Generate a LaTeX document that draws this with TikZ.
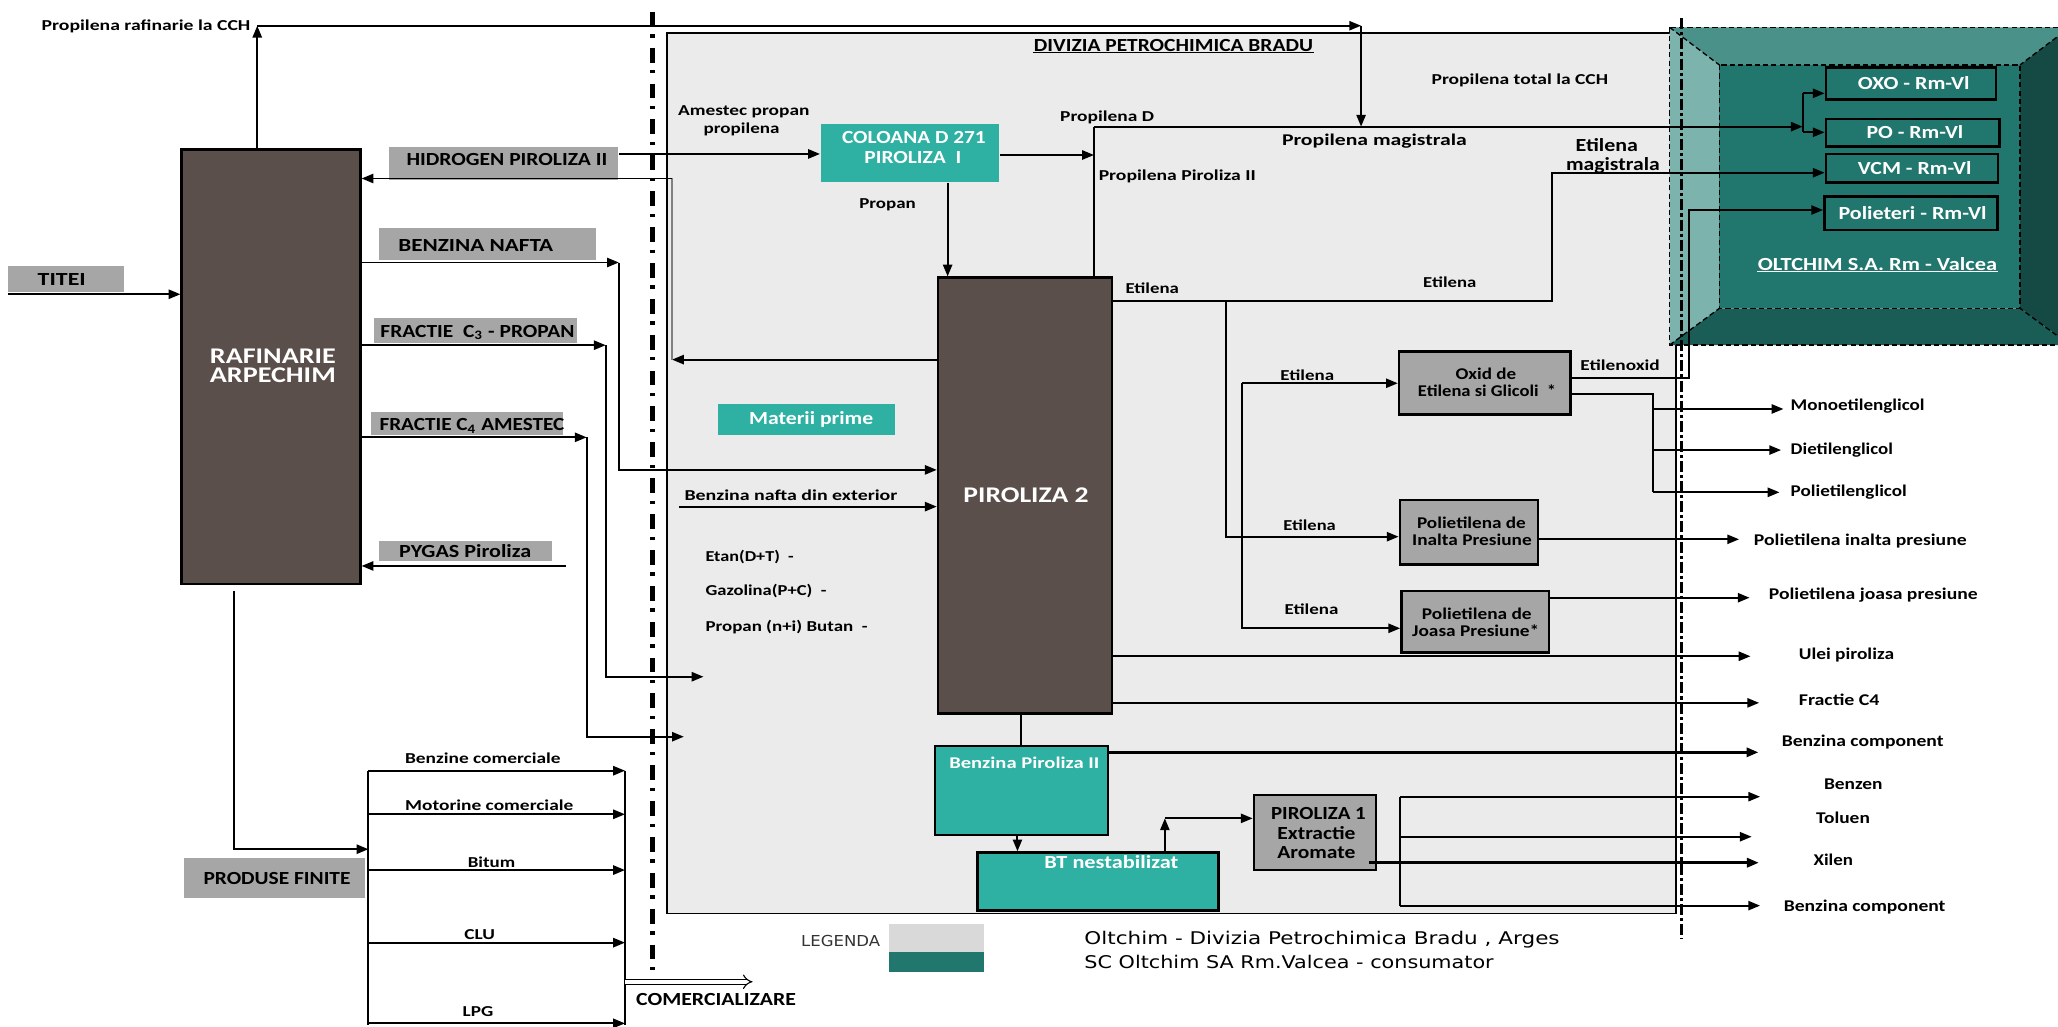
\documentclass[tikz,border=0pt]{standalone}
\usepackage{fontspec}
\setmainfont{Carlito}
\newfontfamily\legfont{DejaVu Sans}
\usepackage{graphicx}
\usetikzlibrary{arrows.meta,fit}
\newdimen\un \un=0.6pt
\newcommand\fw[2]{\resizebox{#1\un}{\height}{#2}}
\definecolor{brownbox}{HTML}{5A4F4B}
\definecolor{tealbox}{HTML}{2EB0A3}
\definecolor{graylab}{HTML}{A6A6A6}
\definecolor{panelgray}{HTML}{EBEBEB}
\definecolor{oltin}{HTML}{21766D}
\definecolor{oltleft}{HTML}{7DB3AD}
\definecolor{olttop}{HTML}{4A918A}
\definecolor{oltbot}{HTML}{1A5D57}
\definecolor{oltright}{HTML}{154A44}
\definecolor{legtop}{HTML}{D9D9D9}
\begin{document}
\begin{tikzpicture}[x=0.6pt,y=-0.6pt,line width=0.9pt,
  >={Triangle[length=5.4pt,width=4.2pt]},
  lt/.style={inner sep=0pt,anchor=west,text depth=0pt},
  ts/.style={lt,text height=4.38pt,font=\fontsize{6.93pt}{8pt}\selectfont\bfseries},
  tsp/.style={lt,text height=4.74pt,font=\fontsize{7.5pt}{9pt}\selectfont\bfseries},
  tm/.style={lt,text height=5.34pt,font=\fontsize{8.45pt}{10pt}\selectfont\bfseries},
  tl/.style={lt,text height=6.5pt,font=\fontsize{10.25pt}{12pt}\selectfont\bfseries},
  wt/.style={text=white},
  boxb/.style={draw=black,line width=1.2pt,fill=brownbox,inner sep=0pt},
  boxt/.style={fill=tealbox,inner sep=0pt},
  boxtd/.style={fill=tealbox,draw=black,line width=1pt,inner sep=0pt},
  boxg/.style={fill=graylab,inner sep=0pt},
  boxgd/.style={fill=graylab,draw=black,line width=1.2pt,inner sep=0pt},
  oltbox/.style={fill=oltin,draw=black,line width=1.2pt,inner sep=0pt},
  dashdot/.style={line width=2.4pt,dash pattern=on 6.8pt off 3.5pt on 1.5pt off 4.6pt},
  dashdotb/.style={line width=1.7pt,dash pattern=on 5pt off 1.4pt on 1.4pt off 1.4pt},
  bevel/.style={dashed,line width=0.6pt,dash pattern=on 2.4pt off 1.4pt}
]
\useasboundingbox (0,0) rectangle (1568,782);
\fill[white] (0,0) rectangle (1568,782);

% panel
\node[draw=black,fill=panelgray,line width=0.8pt,inner sep=0pt,fit={(508,24.9)(1277,696)}] (panel) {};

% OLTCHIM bevel block
\fill[oltleft] (1272,20.8) -- (1310,49.5) -- (1310,234.9) -- (1272,262.9) -- cycle;
\fill[olttop] (1272,20.8) -- (1577,20.8) -- (1539,49.5) -- (1310,49.5) -- cycle;
\fill[oltright] (1577,20.8) -- (1577,262.9) -- (1539,234.9) -- (1539,49.5) -- cycle;
\fill[oltbot] (1272,262.9) -- (1310,234.9) -- (1539,234.9) -- (1577,262.9) -- cycle;
\fill[oltin] (1310,49.5) rectangle (1539,234.9);
\draw[bevel] (1272,20.8) rectangle (1577,262.9);
\draw[bevel] (1310,49.5) rectangle (1539,234.9);
\draw[bevel] (1272,20.8) -- (1310,49.5) (1577,20.8) -- (1539,49.5)
  (1272,262.9) -- (1310,234.9) (1577,262.9) -- (1539,234.9);

% boxes
\node[boxb,fit={(138.5,114)(274.5,445)}] (raf) {};
\node[boxb,fit={(714.7,211.6)(847.2,543.5)}] (pir2) {};
\node[boxg,fit={(6.1,202.4)(94.2,222.7)}] (titeibox) {};
\node[boxg,fit={(296,111.7)(471,137)}] (hidbox) {};
\node[boxg,fit={(289,174)(454,198)}] (bnbox) {};
\node[boxg,fit={(285,242.5)(439.5,261)}] (c3box) {};
\node[boxg,fit={(282.3,313.7)(429.3,331.7)}] (c4box) {};
\node[boxg,fit={(288.4,412)(420.7,427.4)}] (pygbox) {};
\node[boxg,fit={(140,653.5)(278,684)}] (pfbox) {};
\node[boxt,fit={(625.5,94.7)(761.5,138.4)}] (col) {};
\node[boxt,fit={(547,307.8)(682,331.7)}] (mat) {};
\node[boxtd,fit={(712.3,568.1)(844.2,636.2)}] (bp2) {};
\node[boxtd,line width=1.3pt,fit={(744.6,649.7)(928.3,693.8)}] (bt) {};
\node[boxgd,fit={(1066,268)(1196.7,315.7)}] (oxid) {};
\node[boxgd,fit={(1066.6,381)(1171.7,430)}] (peip) {};
\node[boxgd,fit={(1067.8,450.3)(1180.2,497.3)}] (pejp) {};
\node[boxgd,fit={(955.4,605.7)(1048.4,662.9)}] (pir1) {};
\node[oltbox,fit={(1391.2,51.6)(1520.8,75.7)}] (oxo) {};
\node[oltbox,fit={(1391.2,90.7)(1523.4,111.7)}] (po) {};
\node[oltbox,fit={(1391.2,117.3)(1522.4,139.2)}] (vcm) {};
\node[oltbox,fit={(1390,149.8)(1522,175.2)}] (polie) {};

% coordinates
\coordinate (cchA) at (196,19.6);
\coordinate (cchB) at (1037,19.6);
\coordinate (magJ) at (1037,96.5);
\coordinate (titeiS) at (6.1,224.2);
\coordinate (hyJ) at (512,274);
\coordinate (hyT) at (512,136);
\coordinate (bnJ) at (471.5,200);
\coordinate (c3J) at (461.5,263);
\coordinate (c3E) at (536,515.6);
\coordinate (c4J) at (447,333.2);
\coordinate (c4E) at (521,561.3);
\coordinate (pygS) at (431.3,431.2);
\coordinate (exS) at (517.3,386);
\coordinate (rafD) at (178,450);
\coordinate (pfL) at (280.7,587.2);
\coordinate (pfLB) at (280.7,781);
\coordinate (pfR) at (476.2,587.2);
\coordinate (pfRB) at (476.2,781);
\coordinate (comE) at (573.4,748);
\coordinate (prJ) at (833.5,96.5);
\coordinate (magE) at (1373.5,96.5);
\coordinate (etJ) at (1182.7,229.3);
\coordinate (eb1) at (934,229.3);
\coordinate (eb2) at (946.6,292);
\coordinate (eoJ) at (1287,288.2);
\coordinate (gJ) at (1259.3,300.4);
\coordinate (gB) at (1259.3,375.1);
\coordinate (megE) at (1358.8,311.6);
\coordinate (degE) at (1357,342.9);
\coordinate (pegE) at (1355.8,375.1);
\coordinate (peipE) at (1325,410.9);
\coordinate (pejpE) at (1333,455.4);
\coordinate (uleiE) at (1333.7,500);
\coordinate (fc4E) at (1340.3,535.5);
\coordinate (bc1E) at (1339.7,573.2);
\coordinate (btJ) at (887.5,623.5);
\coordinate (arT) at (1067,607);
\coordinate (arB) at (1067,690);
\coordinate (benzE) at (1341,607);
\coordinate (tolE) at (1334.6,637.5);
\coordinate (xilE) at (1340,657.3);
\coordinate (bc2E) at (1341,690);
\coordinate (dd1t) at (497,9);
\coordinate (dd1b) at (497,745);
\coordinate (dd2t) at (1281.2,14);
\coordinate (dd2b) at (1281.2,715);

% connectors
\draw[->] (raf.north -| cchA) -- (cchA);
\draw[->] (cchA) -- (cchB);
\draw[->] (cchB) -- (magJ);
\draw[->] (titeiS) -- (raf.west |- titeiS);
\draw[->] (hidbox.east |- 0,117.3) -- (col.west |- 0,117.3);
\draw[->] (pir2.west |- hyJ) -- (hyJ);
\draw[gray,line width=0.8pt] (hyJ) -- (hyT);
\draw[->] (hyT) -- (raf.east |- hyT);
\draw[->] (raf.east |- bnJ) -- (bnJ);
\draw[->] (bnJ) |- (pir2.west |- 0,358);
\draw[->] (raf.east |- c3J) -- (c3J);
\draw[->] (c3J) |- (c3E);
\draw[->] (raf.east |- c4J) -- (c4J);
\draw[->] (c4J) |- (c4E);
\draw[->] (pygS) -- (raf.east |- pygS);
\draw[->] (exS) -- (pir2.west |- exS);
\draw[->] (rafD) |- (pfL |- 0,647);
\draw (pfL) -- (pfLB);
\draw (pfR) -- (pfRB);
\foreach \yy in {587.2,620.4,662.9,718.2,779.7}
  \draw[->] (pfL |- 0,\yy) -- (pfR |- 0,\yy);
\draw[double,double distance=1.8pt,line width=0.5pt,-{Implies}] (pfR |- comE) -- (comE);
\draw[->] (col.east |- 0,118.1) -- (prJ |- 0,118.1);
\draw (pir2.north -| prJ) -- (prJ);
\draw[->] (prJ) -- (magE);
\draw (magE |- 0,71.1) -- (magE |- 0,100.8);
\draw[->] (magE |- 0,71.1) -- (oxo.west |- 0,71.1);
\draw[->] (magE |- 0,100.8) -- (po.west |- 0,100.8);
\draw[->] (col.south -| 722,0) -- (pir2.north -| 722,0);
\draw[->] (pir2.east |- etJ) -- (etJ) |- (vcm.west |- 0,131.6);
\draw[->] (eb1) |- (peip.west |- 0,408.9);
\draw[->] (eb2) -- (oxid.west |- eb2);
\draw[->] (eb2) |- (pejp.west |- 0,478.7);
\draw[->] (oxid.east |- eoJ) -- (eoJ) |- (polie.west |- 0,160);
\draw (oxid.east |- gJ) -- (gJ) -- (gB);
\draw[->] (gJ |- megE) -- (megE);
\draw[->] (gJ |- degE) -- (degE);
\draw[->] (gB) -- (pegE);
\draw[->] (peip.east |- peipE) -- (peipE);
\draw[->] (pejp.east |- pejpE) -- (pejpE);
\draw[->] (pir2.east |- uleiE) -- (uleiE);
\draw[->] (pir2.east |- fc4E) -- (fc4E);
\draw (pir2.south -| 777.9,0) -- (bp2.north -| 777.9,0);
\draw[->,line width=1.2pt] (bp2.east |- bc1E) -- (bc1E);
\draw[->] (bp2.south -| 775.2,0) -- (bt.north -| 775.2,0);
\draw[->] (bt.north -| btJ) -- (btJ);
\draw[->] (btJ) -- (pir1.west |- btJ);
\draw (arT) -- (arB);
\draw[->] (arT) -- (benzE);
\draw[->] (arT |- tolE) -- (tolE);
\draw[->,line width=1.2pt] ([xshift=-4pt]pir1.east |- xilE) -- (xilE);
\draw[->] (arB) -- (bc2E);

% dash-dot boundaries
\draw[dashdot] (dd1t) -- (dd1b);
\draw[dashdotb] (dd2t) -- (dd2b);

% small labels
\node[ts] (l1) at (31,19.6) {\fw{159}{Propilena rafinarie la CCH}};
\node[ts] (l2) at (516,84.6) {\fw{100}{Amestec propan}};
\node[ts] (l3) at (535.4,97.8) {\fw{57.7}{propilena}};
\node[ts] (l4) at (654,155.2) {\fw{43}{Propan}};
\node[ts] (l5) at (807,88.9) {\fw{71.5}{Propilena D}};
\node[ts] (l6) at (836.4,133.8) {\fw{119.6}{Propilena Piroliza II}};
\node[ts] (l7) at (1090,60.4) {\fw{134.4}{Propilena total la CCH}};
\node[ts] (l8) at (856.8,219.7) {\fw{40.7}{Etilena}};
\node[ts] (l9) at (1083.6,215.1) {\fw{40.4}{Etilena}};
\node[ts] (l10) at (974.8,286.2) {\fw{40.9}{Etilena}};
\node[ts] (l11) at (977,400.5) {\fw{40}{Etilena}};
\node[ts] (l12) at (978,464.3) {\fw{41}{Etilena}};
\node[ts] (l13) at (520.8,377.7) {\fw{162.2}{Benzina nafta din exterior}};
\node[ts] (l14) at (536.8,424.1) {\fw{67.2}{Etan(D+T)\ \ -}};
\node[ts] (l15) at (536.8,450) {\fw{92.1}{Gazolina(P+C)\ \ -}};
\node[ts] (l16) at (536.8,477.4) {\fw{123.4}{Propan (n+i) Butan\ \ -}};
\node[ts] (l17) at (1203.4,278.6) {\fw{60.4}{Etilenoxid}};
\node[ts] (pc1) at (307.9,577.8) {\fw{118.5}{Benzine comerciale}};
\node[ts] (pc2) at (307.9,614) {\fw{128.2}{Motorine comerciale}};
\node[ts] (pc3) at (355.7,657.3) {\fw{36.1}{Bitum}};
\node[ts] (pc4) at (353,711.9) {\fw{23.3}{CLU}};
\node[ts] (pc5) at (351.8,770.8) {\fw{23.3}{LPG}};

% output labels
\node[tsp] (o1) at (1363.6,309) {\fw{102}{Monoetilenglicol}};
\node[tsp] (o2) at (1363.6,342.3) {\fw{77.9}{Dietilenglicol}};
\node[tsp] (o3) at (1363.6,374.1) {\fw{88.4}{Polietilenglicol}};
\node[tsp] (o4) at (1335.6,411.4) {\fw{162}{Polietilena inalta presiune}};
\node[tsp] (o5) at (1347,452.8) {\fw{159}{Polietilena joasa presiune}};
\node[tsp] (o6) at (1369.8,498.3) {\fw{72.5}{Ulei piroliza}};
\node[tsp] (o7) at (1369.8,533.3) {\fw{61.5}{Fractie C4}};
\node[tsp] (o8) at (1356.8,565) {\fw{123.2}{Benzina component}};
\node[tsp] (o9) at (1389,597.3) {\fw{44.6}{Benzen}};
\node[tsp] (o10) at (1383,623.5) {\fw{40.9}{Toluen}};
\node[tsp] (o11) at (1381,655.7) {\fw{30}{Xilen}};
\node[tsp] (o12) at (1358.3,690.8) {\fw{123.2}{Benzina component}};
\node[tsp] (t18) at (976,106.7) {\fw{140.8}{Propilena magistrala}};

% box texts
\node[tsp] (ox1) at (1108.3,285.2) {\fw{46.1}{Oxid de}};
\node[tsp] (ox2) at (1079.6,298.4) {\fw{105.3}{Etilena si Glicoli\ \ *}};
\node[tsp] (pi1) at (1078.9,398.7) {\fw{82.9}{Polietilena de}};
\node[tsp] (pi2) at (1075.2,411.9) {\fw{91}{Inalta Presiune}};
\node[tsp] (pj1) at (1082.6,467.8) {\fw{83.6}{Polietilena de}};
\node[tsp] (pj2) at (1075.2,480.8) {\fw{96.8}{Joasa Presiune*}};
\node[tm] (p11) at (967.7,619.7) {\fw{72.1}{PIROLIZA 1}};
\node[tm] (p12) at (972.5,634.9) {\fw{59.5}{Extractie}};
\node[tm] (p13) at (972.5,649.7) {\fw{59.5}{Aromate}};
\node[tsp,wt] (t20) at (722.5,581.6) {\fw{114.3}{Benzina Piroliza II}};
\node[tm,wt] (t21) at (795,657) {\fw{102}{BT nestabilizat}};

% medium labels
\node[tm] (t1) at (28,212.8) {\fw{36.6}{TITEI}};
\node[tm] (t2) at (309,122) {\fw{153}{HIDROGEN PIROLIZA II}};
\node[tm] (t3) at (302.7,187.2) {\fw{118}{BENZINA NAFTA}};
\node[tm] (t4) at (289.1,252.7) {\fw{147.9}{FRACTIE\ \ C\textsubscript{3} - PROPAN}};
\node[tm] (t5) at (288.4,323.8) {\fw{140.9}{FRACTIE C\textsubscript{4} AMESTEC}};
\node[tm] (t6) at (303.4,420.3) {\fw{100.6}{PYGAS Piroliza}};
\node[tm] (t7) at (154.3,669.2) {\fw{112}{PRODUSE FINITE}};
\node[tm] (t8) at (787,34.8) {\fw{212.6}{DIVIZIA PETROCHIMICA BRADU}};
\draw[line width=0.6pt] (t8.west |- 0,39.9) -- (t8.east |- 0,39.9);
\node[tm,wt] (t9) at (640.8,104.6) {\fw{109.5}{COLOANA D 271}};
\node[tm,wt] (t10) at (657.8,120.1) {\fw{73.8}{PIROLIZA\ \ I}};
\node[tm,wt] (t11) at (570,318.7) {\fw{94.6}{Materii prime}};
\node[tm] (t12) at (484,762) {\fw{121.7}{COMERCIALIZARE}};
\node[tm,wt] (t13) at (1414.8,63.5) {\fw{85.1}{OXO - Rm-Vl}};
\node[tm,wt] (t14) at (1421.4,100.8) {\fw{73.7}{PO - Rm-Vl}};
\node[tm,wt] (t15) at (1414.8,128.3) {\fw{86.5}{VCM - Rm-Vl}};
\node[tm,wt] (t16) at (1400,162.5) {\fw{112.8}{Polieteri - Rm-Vl}};
\node[tm,wt] (t17) at (1338.5,201.9) {\fw{182.3}{OLTCHIM S.A. Rm - Valcea}};
\draw[white,line width=0.6pt] (t17.west |- 0,207) -- (t17.east |- 0,207);
\node[tm] (t19) at (1199.7,111.2) {\fw{47.5}{Etilena}};
\node[tm] (t19b) at (1192.4,125.7) {\fw{71.4}{magistrala}};

% large labels
\node[tl,wt] (r1) at (159.2,271.7) {\fw{95.9}{RAFINARIE}};
\node[tl,wt] (r2) at (159.2,285.7) {\fw{95.9}{ARPECHIM}};
\node[tl,wt] (p2t) at (733.3,377.7) {\fw{95.3}{PIROLIZA 2}};

% legend
\node[lt,text height=5.04pt,font=\legfont\fontsize{6.9pt}{8pt}\selectfont,text=black!80] (leg) at (609.6,716.7) {\fw{60.2}{LEGENDA}};
\fill[legtop] (677.6,704) rectangle (750,725);
\fill[oltin] (677.6,725) rectangle (750,740.3);
\node[lt,text height=5.8pt,font=\legfont\fontsize{8pt}{9pt}\selectfont] (leg1) at (825.5,715) {\fw{362}{Oltchim - Divizia Petrochimica Bradu , Arges}};
\node[lt,text height=5.8pt,font=\legfont\fontsize{8pt}{9pt}\selectfont] (leg2) at (825.5,732.7) {\fw{311.8}{SC Oltchim SA Rm.Valcea - consumator}};
\end{tikzpicture}
\end{document}
